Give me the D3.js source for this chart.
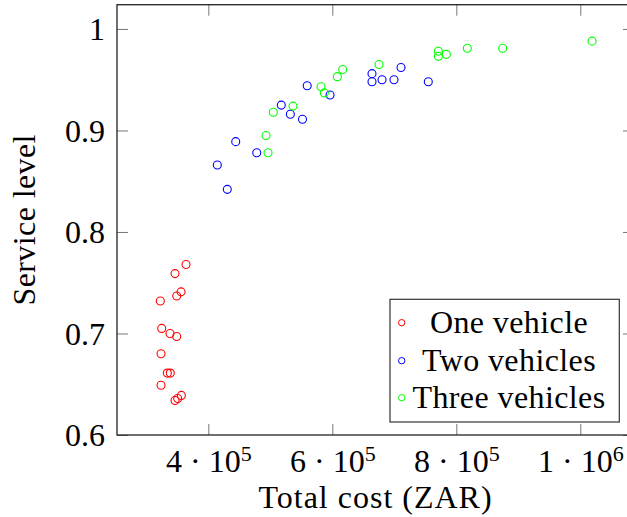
<!DOCTYPE html>
<html>
<head>
<meta charset="utf-8">
<script src="https://cdn.jsdelivr.net/npm/d3@7"></script>
<style>
  html, body { margin: 0; padding: 0; background: #fff; }
  svg { display: block; }
  text { font-family: "Liberation Serif", "Times New Roman", serif; fill: #000; }
</style>
</head>
<body>
<script>
// ---- data ----
const oneCost = [364000, 346300, 356000, 349000, 322600, 324800, 338200, 349000, 323700, 333900, 338700, 323700, 346300, 350600, 356500];
const oneService = [0.768, 0.759, 0.741, 0.737, 0.732, 0.705, 0.700, 0.697, 0.680, 0.661, 0.661, 0.649, 0.634, 0.636, 0.639];

const twoCost = [414500, 430600, 444200, 478100, 517700, 532300, 551900, 559500, 596300, 664000, 664000, 680200, 699500, 710800, 754800];
const twoService = [0.866, 0.842, 0.889, 0.878, 0.925, 0.916, 0.911, 0.944, 0.935, 0.956, 0.948, 0.950, 0.950, 0.962, 0.948];

const threeCost = [493100, 496300, 504800, 536600, 581800, 587100, 608100, 616800, 675300, 771000, 771000, 783900, 817700, 874800, 1018900];
const threeService = [0.895, 0.878, 0.918, 0.924, 0.943, 0.937, 0.953, 0.960, 0.965, 0.978, 0.973, 0.975, 0.981, 0.981, 0.988];

const seriesNames = ["One vehicle", "Two vehicles", "Three vehicles"];
const seriesColors = ["#ff0000", "#0000ff", "#00ff00"];

const xTicks = [4e5, 6e5, 8e5, 1e6];
const xTickMantissa = ["4", "6", "8", "1"];
const xTickExponent = ["5", "5", "5", "6"];
const yTicks = [0.6, 0.7, 0.8, 0.9, 1];
const yTickLabels = ["0.6", "0.7", "0.8", "0.9", "1"];

const xLabel = "Total cost (ZAR)";
const yLabel = "Service level";

// ---- layout ----
const W = 627, H = 517;
const L = 117, R = 634, T = 4.7, B = 435;
const FS = 32;

const svg = d3.select("body").append("svg").attr("width", W).attr("height", H);

const x = d3.scaleLinear().domain([252700, 1086600]).range([L, R]);
const y = d3.scaleLinear().domain([0.6, 1.0239]).range([B, T]);

// ---- axes (ticks inside, all four sides) ----
function styleAxis(g) {
  g.select(".domain").remove();
  g.selectAll(".tick line").attr("stroke", "#777").attr("stroke-width", 1);
}

const gb = svg.append("g").attr("transform", `translate(0,${B})`)
  .call(d3.axisBottom(x).tickValues(xTicks).tickSizeInner(-11).tickSizeOuter(0).tickFormat(""))
  .call(styleAxis);
gb.selectAll(".tick text").each(function(d, i) {
  const t = d3.select(this);
  t.attr("y", 37).attr("dy", null).attr("font-size", FS).attr("font-family", null);
  t.text(null);
  t.append("tspan").text(xTickMantissa[i] + " \u00B7 10");
  t.append("tspan").attr("dy", -11).attr("font-size", 22).text(xTickExponent[i]);
});

svg.append("g").attr("transform", `translate(0,${T})`)
  .call(d3.axisTop(x).tickValues(xTicks).tickSizeInner(-11).tickSizeOuter(0).tickFormat(""))
  .call(styleAxis);

const gl = svg.append("g").attr("transform", `translate(${L},0)`)
  .call(d3.axisLeft(y).tickValues(yTicks).tickSizeInner(-11).tickSizeOuter(0)
    .tickFormat((d, i) => yTickLabels[i]))
  .call(styleAxis);
gl.selectAll(".tick text").attr("x", -12).attr("dy", "0.33em")
  .attr("font-size", FS).attr("font-family", null);

svg.append("g").attr("transform", `translate(${R},0)`)
  .call(d3.axisRight(y).tickValues(yTicks).tickSizeInner(-11).tickSizeOuter(0).tickFormat(""))
  .call(styleAxis);

// frame
svg.append("rect").attr("x", L).attr("y", T).attr("width", R - L).attr("height", B - T)
  .attr("fill", "none").attr("stroke", "#222").attr("stroke-width", 1.3);

// ---- points ----
const series = [
  { cost: oneCost, service: oneService },
  { cost: twoCost, service: twoService },
  { cost: threeCost, service: threeService }
];
series.forEach((s, si) => {
  svg.append("g").selectAll("circle")
    .data(s.cost.map((c, i) => [c, s.service[i]]))
    .join("circle")
    .attr("cx", d => x(d[0]))
    .attr("cy", d => y(d[1]))
    .attr("r", 4)
    .attr("fill", "none")
    .attr("stroke", seriesColors[si])
    .attr("stroke-width", 1.1);
});

// ---- axis labels ----
svg.append("text").attr("x", (L + R) / 2).attr("y", 508)
  .attr("text-anchor", "middle").attr("font-size", FS).attr("letter-spacing", 1).text(xLabel);
svg.append("text").attr("transform", "rotate(-90)")
  .attr("x", -(T + B) / 2).attr("y", 35)
  .attr("text-anchor", "middle").attr("font-size", FS).attr("letter-spacing", 0.4).text(yLabel);

// ---- legend ----
const lg = svg.append("g");
lg.append("rect").attr("x", 390).attr("y", 299.3).attr("width", 229.3).attr("height", 122.7)
  .attr("fill", "#fff").attr("stroke", "#333").attr("stroke-width", 1.2);
const rowY = [322.7, 360.7, 397.7];
seriesNames.forEach((name, i) => {
  lg.append("circle").attr("cx", 401.7).attr("cy", rowY[i]).attr("r", 3.2)
    .attr("fill", "none").attr("stroke", seriesColors[i]).attr("stroke-width", 1);
  lg.append("text").attr("x", 509).attr("y", rowY[i] + 10.3)
    .attr("text-anchor", "middle").attr("font-size", FS).attr("letter-spacing", 0.4).text(name);
});
</script>
</body>
</html>
